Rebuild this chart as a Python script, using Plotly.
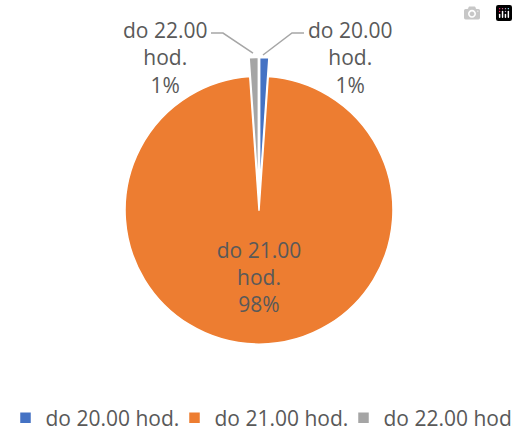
import plotly.graph_objects as go

labels = ["do 20.00 hod.", "do 21.00 hod.", "do 22.00 hod."]
label_text = ["do 20.00<br>hod.", "do 21.00<br>hod.", "do 22.00<br>hod."]
values = [1.1, 97.8, 1.1]
percent_text = ["1%", "98%", "1%"]
colors = ["#4472C4", "#ED7D31", "#A5A5A5"]

FONT = "Open Sans"
TXT = "#595959"
LINE = "#A6A6A6"

fig = go.Figure(go.Pie(
    labels=labels,
    values=values,
    text=label_text,
    texttemplate="%{text}<br>%{percent:.0%}",
    textposition=["none", "inside", "none"],
    insidetextorientation="horizontal",
    sort=False,
    direction="clockwise",
    rotation=0,
    pull=[0.14, 0, 0.14],
    marker=dict(colors=colors, line=dict(color="white", width=1.5)),
    textfont=dict(family=FONT, size=21, color=TXT),
    insidetextfont=dict(family=FONT, size=21, color=TXT),
    domain=dict(x=[0.205, 0.795], y=[0.160, 0.867]),
    hoverinfo="label+percent",
))

# labels for the two small slices, placed outside with leader lines
small = [(0, 0.675, [(0.5077, 0.8727), (0.5637, 0.9236), (0.5869, 0.9236)]),
         (2, 0.3176, [(0.4884, 0.8773), (0.4305, 0.9236), (0.4073, 0.9236)])]
for idx, ax, pts in small:
    fig.add_annotation(
        x=ax, y=0.868, xref="paper", yref="paper",
        xanchor="center", yanchor="middle",
        text=f"{label_text[idx]}<br>{percent_text[idx]}",
        showarrow=False, align="center",
        font=dict(family=FONT, size=21, color=TXT),
    )
    path = "M " + " L ".join(f"{x},{y}" for x, y in pts)
    fig.add_shape(type="path", path=path, xref="paper", yref="paper",
                  line=dict(color=LINE, width=1.5))

fig.update_layout(
    width=518, height=432,
    margin=dict(l=0, r=0, t=0, b=0, autoexpand=False),
    paper_bgcolor="white",
    font=dict(family=FONT, size=21, color=TXT),
    showlegend=True,
    legend=dict(orientation="h", xref="container", yref="container",
                x=0.5, xanchor="center", y=0.032, yanchor="middle",
                font=dict(family=FONT, size=21, color=TXT), itemwidth=30,
                entrywidth=124, entrywidthmode="pixels",
                traceorder="normal"),
)

fig.write_html("out.html", post_script="document.body.style.margin='0px';")
